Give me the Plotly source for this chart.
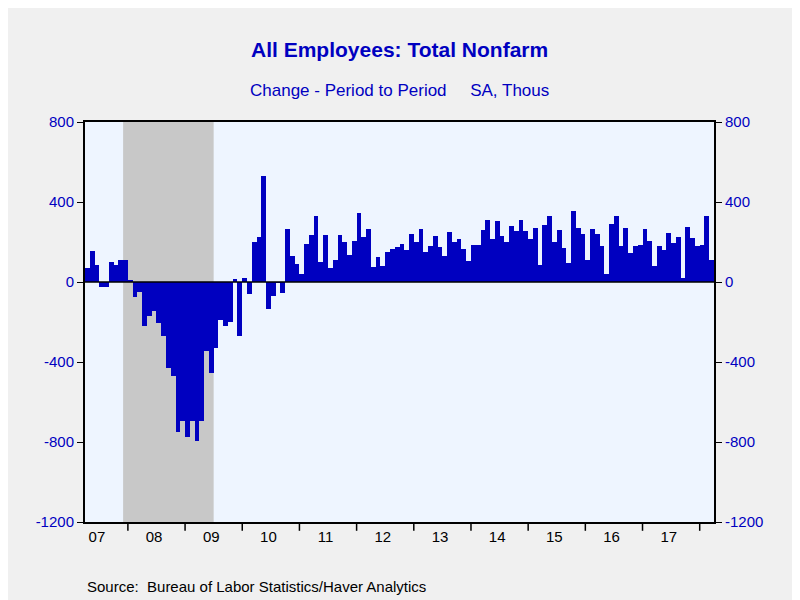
import plotly.graph_objects as go

# monthly change, SA, thousands: Apr 2007 .. Mar 2018
start_year, start_month = 2007, 4
changes = [
    69, 157, 83, -23, -23, 101, 83, 111, 108,
    12, -73, -49, -219, -172, -144, -204, -270, -432, -468, -751, -695,
    -776, -695, -793, -695, -346, -457, -330, -190, -219, -198, 17, -270,
    22, -61, 199, 224, 528, -133, -69, -5, -57, 265, 128, 88,
    42, 188, 235, 330, 100, 235, 70, 110, 235, 200, 135, 205,
    345, 225, 265, 75, 125, 80, 150, 165, 175, 190, 160, 240,
    200, 265, 150, 180, 230, 175, 130, 250, 200, 215, 165, 105,
    185, 185, 260, 310, 215, 305, 230, 200, 280, 255, 310, 255,
    215, 270, 85, 285, 330, 200, 260, 170, 93, 355, 270, 240,
    108, 265, 240, 180, 42, 290, 330, 180, 270, 143, 180, 185,
    265, 204, 78, 180, 159, 245, 194, 225, 22, 275, 220, 180,
    185, 330, 108,
]
year_labels = ["07", "08", "09", "10", "11", "12", "13", "14", "15", "16", "17"]
recession = (2007, 12, 2009, 6)
y_ticks = [-1200, -800, -400, 0, 400, 800]
y_tick_text = ["-1200", "-800", "-400", "0", "400", "800"]


def idx(y, m):
    return (y - start_year) * 12 + (m - start_month)


n = len(changes)
x = list(range(n))
blue = "#0000C0"

fig = go.Figure()
fig.add_trace(go.Bar(x=x, y=changes, marker_color=blue, marker_line_width=0, width=1.0))
# invisible trace for the right axis
fig.add_trace(go.Scatter(x=[0], y=[0], yaxis="y2", mode="markers",
                         marker_opacity=0, showlegend=False, hoverinfo="skip"))

# recession band
fig.add_shape(type="rect", xref="x", yref="paper",
              x0=idx(recession[0], recession[1]) - 0.5, x1=idx(recession[2], recession[3]) + 0.5,
              y0=0, y1=1, fillcolor="#C8C8C8", line_width=0, layer="below")
fig.add_hline(y=0, line_color="black", line_width=1.5)

# year boundary ticks below the axis
for k in range(1, len(year_labels) + 1):
    bx = idx(start_year + k, 1) - 0.5
    if bx < n - 0.5:
        fig.add_shape(type="line", xref="x", yref="paper", x0=bx, x1=bx,
                      y0=0, y1=-0.022, line=dict(color="black", width=1.5))

centers = [idx(start_year + k, 1) + 5.5 - 0.5 for k in range(len(year_labels))]

yax = dict(range=[-1200, 800], tickvals=y_ticks, ticktext=y_tick_text, ticks="outside",
           ticklen=6, tickcolor="black", tickfont=dict(color=blue, size=15, family="Arial"),
           showgrid=False, zeroline=False, showline=True, linecolor="black", linewidth=2)

fig.update_layout(
    width=800, height=600,
    paper_bgcolor="#F0F0F0", plot_bgcolor="#EEF5FF",
    margin=dict(l=77, r=94, t=114, b=86),
    showlegend=False, bargap=0,
    xaxis=dict(range=[-0.5, n - 0.5], tickvals=centers, ticktext=year_labels,
               ticks="", tickfont=dict(color="black", size=15, family="Arial"),
               showgrid=False, zeroline=False, showline=True, linecolor="black",
               linewidth=2, mirror=True),
    yaxis=yax,
    yaxis2=dict(yax, overlaying="y", side="right"),
)
fig.add_annotation(text="<b>All Employees: Total Nonfarm</b>", xref="paper", yref="paper",
                   x=0.5, y=1.2145, showarrow=False, font=dict(color=blue, size=21, family="Arial"))
fig.add_annotation(text="Change - Period to Period     SA, Thous", xref="paper", yref="paper",
                   x=0.5, y=1.107, showarrow=False, font=dict(color=blue, size=17, family="Arial"))
fig.add_annotation(text="Source:  Bureau of Labor Statistics/Haver Analytics", xref="paper",
                   yref="paper", x=0.0, y=-0.1875, xanchor="left", showarrow=False,
                   font=dict(color="black", size=15, family="Arial"))

fig.write_html("out.html")
